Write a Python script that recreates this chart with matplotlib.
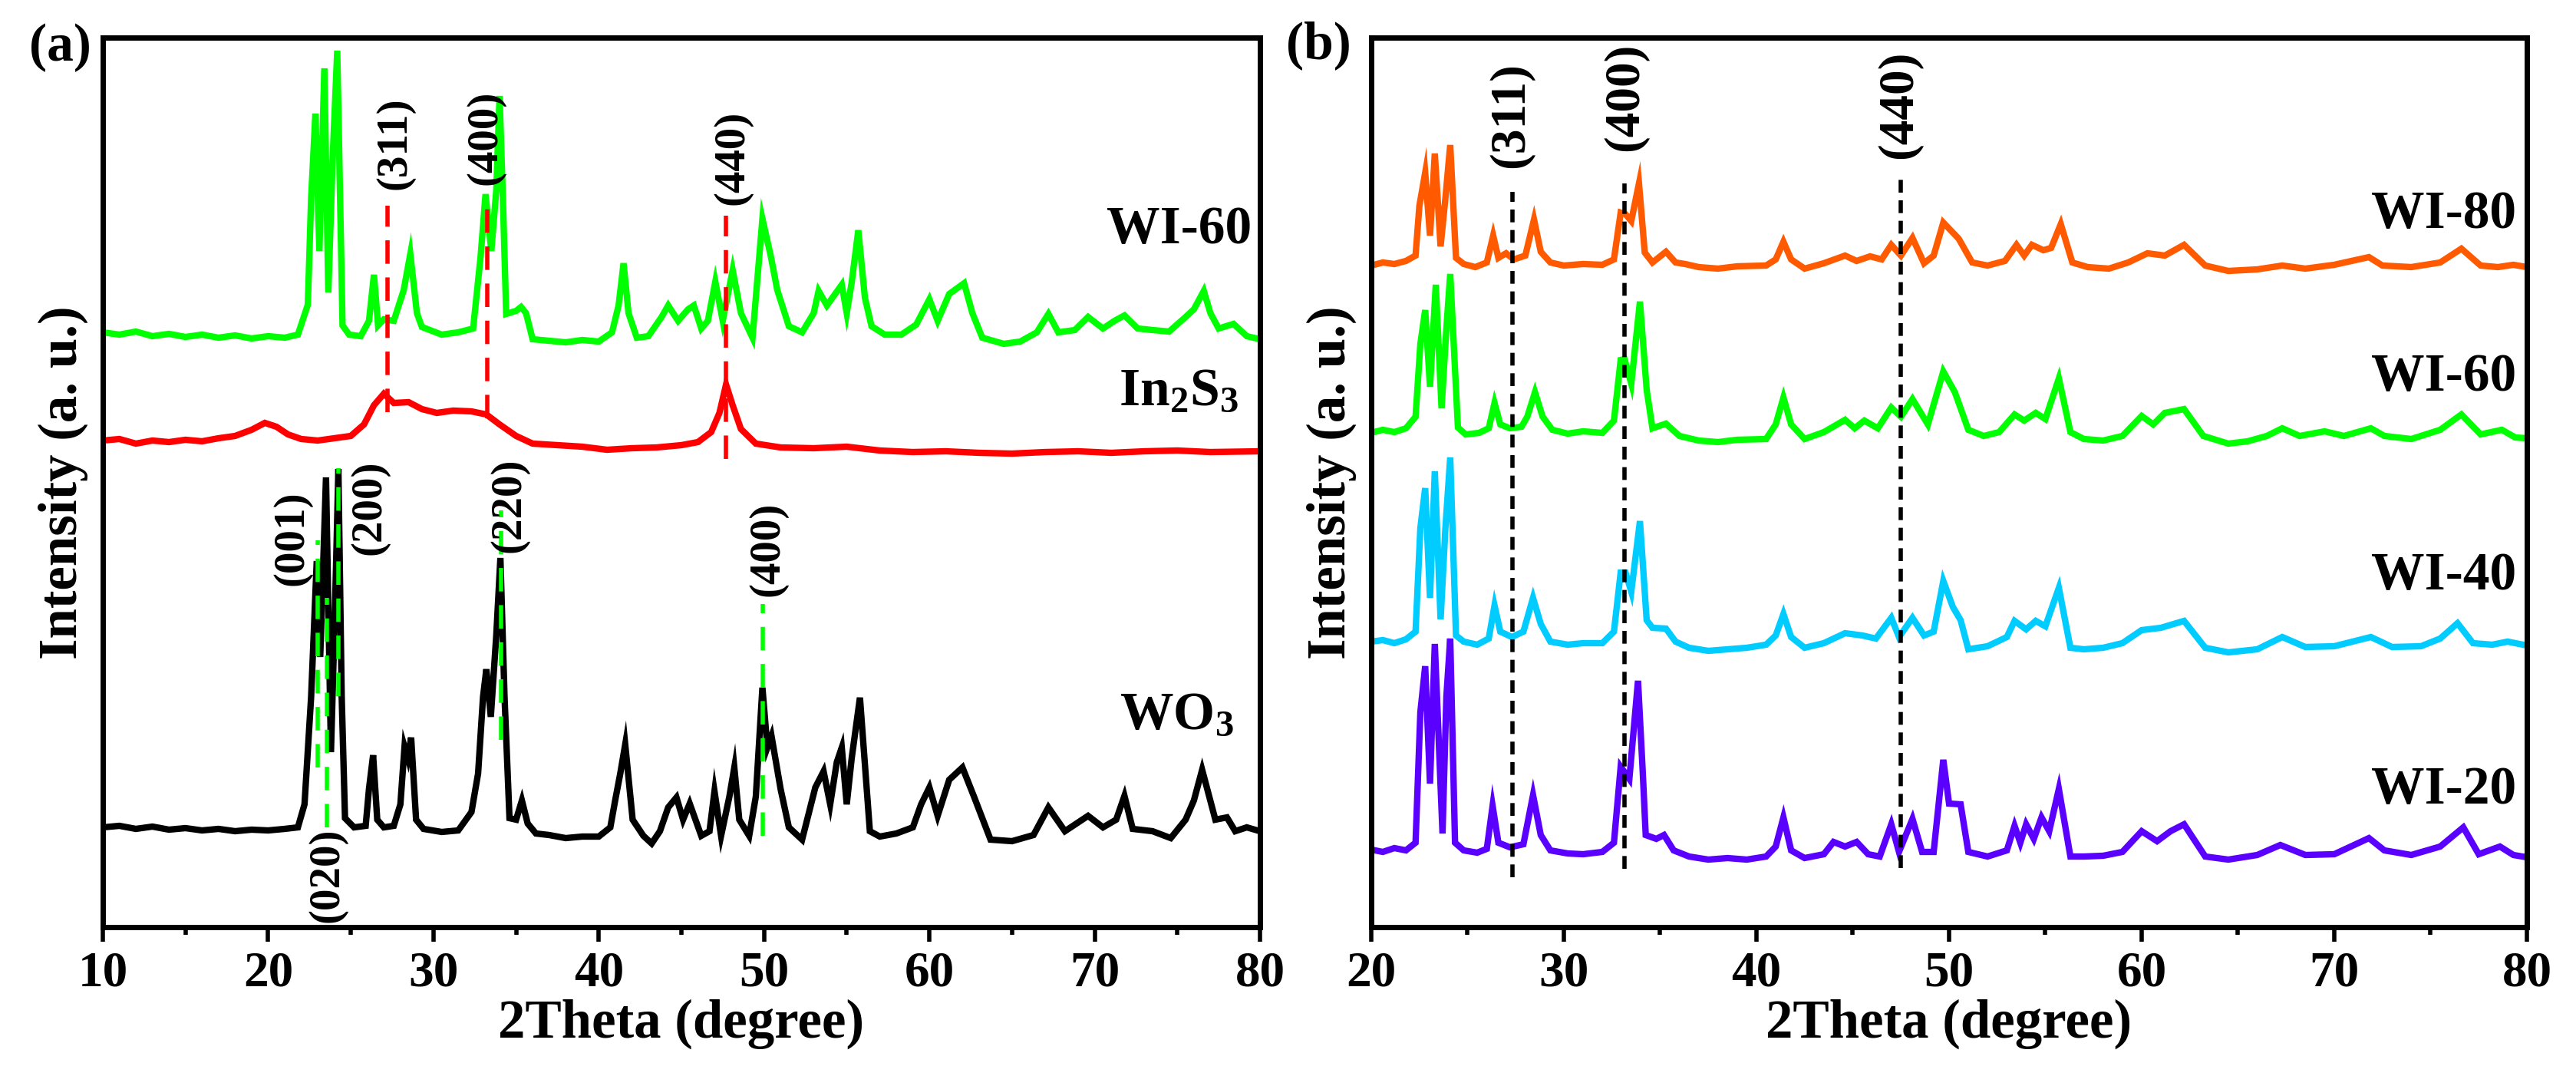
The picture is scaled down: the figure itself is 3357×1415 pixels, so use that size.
import numpy as np
import matplotlib
matplotlib.use("Agg")
import matplotlib.pyplot as plt
from matplotlib.ticker import MultipleLocator

# ---------------------------------------------------------
# data (2theta in degree, intensity in a.u.,
# already stacked with the vertical offsets used in the figure)
# ---------------------------------------------------------
wo3_pts = [
    (10, 130), (11, 132), (12, 128), (13, 131), (14, 127), (15, 129), (16, 126), (17, 128),
    (18, 125), (19, 127), (20, 126), (21, 128), (21.8, 130), (22.2, 160), (22.6, 300),
    (22.94, 477), (23.15, 352), (23.5, 586), (23.8, 228), (24.05, 420), (24.25, 597),
    (24.45, 300), (24.65, 142), (25.2, 130), (25.9, 132), (26.1, 180), (26.35, 224),
    (26.6, 140), (27.0, 130), (27.6, 132), (28.0, 160), (28.25, 235), (28.45, 220),
    (28.65, 247), (28.95, 140), (29.4, 128), (30.5, 124), (31.5, 126), (32.3, 150),
    (32.7, 200), (33.0, 300), (33.2, 336), (33.47, 274), (33.8, 380), (34.05, 481),
    (34.3, 300), (34.6, 142), (35.0, 140), (35.35, 165), (35.7, 135), (36.2, 122),
    (37, 120), (38, 116), (39, 118), (40, 118), (40.7, 130), (41.0, 166), (41.3, 200),
    (41.6, 238), (42.05, 140), (42.7, 119), (43.2, 109), (43.7, 125), (44.2, 156),
    (44.7, 169), (45.1, 140), (45.5, 161), (46.2, 119), (46.7, 125), (47.0, 177),
    (47.4, 119), (47.9, 170), (48.2, 208), (48.5, 140), (49.1, 119), (49.5, 170),
    (49.9, 312), (50.2, 234), (50.45, 249), (51.0, 180), (51.5, 130), (52.3, 114),
    (53.1, 182), (53.6, 203), (54.0, 160), (54.4, 215), (54.7, 234), (55.0, 160),
    (55.3, 220), (55.8, 299), (56.4, 125), (57.0, 118), (58.0, 122), (59.0, 130),
    (59.5, 160), (60.0, 182), (60.5, 145), (61.2, 192), (62.0, 208), (62.7, 170),
    (63.7, 114), (65.0, 112), (66.3, 120), (67.2, 156), (68.2, 125), (69.6, 145),
    (70.5, 130), (71.3, 140), (71.8, 171), (72.3, 128), (73.5, 125), (74.6, 116),
    (75.5, 140), (76.0, 165), (76.5, 205), (77.3, 140), (78.0, 143), (78.5, 125),
    (79.2, 130), (80, 125),
]

in2s3_pts = [
    (10, 634), (11, 636), (12, 630), (13, 634), (14, 632), (15, 635), (16, 633), (17, 637),
    (18, 640), (19, 648), (19.8, 657), (20.5, 652), (21.2, 642), (22, 636), (23, 634),
    (24, 637), (25, 640), (25.8, 655), (26.4, 680), (27.0, 695), (27.6, 683), (28.5, 684),
    (29.3, 675), (30.2, 670), (31.2, 673), (32.3, 672), (33.2, 668), (34.0, 655),
    (35.0, 640), (36.0, 630), (37.5, 628), (39, 626), (40.5, 622), (42, 624), (43.5, 625),
    (45.0, 628), (46.0, 632), (46.8, 645), (47.3, 670), (47.7, 707), (48.1, 680),
    (48.6, 649), (49.5, 630), (51, 625), (53, 624), (55, 626), (57, 621), (59, 619),
    (61, 620), (63, 618), (65, 617), (67, 619), (69, 620), (71, 618), (73, 620), (75, 621),
    (77, 619), (80, 620),
]

wi60a_pts = [
    (10, 775), (11, 772), (12, 776), (13, 770), (14, 773), (15, 769), (16, 772), (17, 768),
    (18, 771), (19, 767), (20, 770), (21, 768), (21.8, 772), (22.4, 811), (22.6, 950),
    (22.86, 1060), (23.1, 881), (23.4, 1119), (23.64, 827), (23.9, 1000), (24.18, 1142),
    (24.5, 784), (24.9, 772), (25.6, 770), (26.1, 790), (26.4, 850), (26.65, 784),
    (27.0, 792), (27.6, 790), (28.2, 830), (28.6, 877), (29.0, 800), (29.3, 782),
    (30.5, 772), (31.5, 775), (32.4, 780), (32.85, 873), (33.15, 955), (33.5, 881),
    (33.8, 960), (34.0, 1083), (34.2, 950), (34.4, 799), (35.0, 803), (35.3, 808),
    (35.6, 800), (36.0, 766), (37, 764), (38, 762), (39, 765), (40, 763), (40.8, 775),
    (41.2, 810), (41.5, 865), (41.8, 800), (42.3, 768), (43.0, 770), (43.8, 795),
    (44.2, 810), (44.8, 790), (45.4, 805), (45.75, 810), (46.2, 780), (46.6, 790),
    (47.05, 841), (47.5, 790), (48.1, 856), (48.6, 800), (49.3, 768), (49.9, 923),
    (50.4, 875), (50.8, 830), (51.5, 783), (52.3, 775), (53.0, 800), (53.3, 829),
    (53.8, 810), (54.3, 825), (54.7, 837), (55.0, 800), (55.3, 840), (55.7, 908),
    (56.1, 820), (56.5, 783), (57.3, 772), (58.3, 772), (59.2, 785), (60.0, 818),
    (60.5, 790), (61.2, 825), (62.1, 839), (62.6, 800), (63.2, 768), (64.5, 760),
    (65.5, 763), (66.5, 775), (67.2, 799), (67.8, 775), (68.8, 778), (69.6, 795),
    (70.5, 780), (71.2, 790), (71.8, 797), (72.6, 780), (73.5, 778), (74.5, 776),
    (75.5, 795), (76.0, 805), (76.6, 829), (77.0, 800), (77.5, 780), (78.4, 786),
    (79.2, 770), (80, 766),
]

wi80_pts = [
    (20, 862), (20.6, 866), (21.2, 864), (21.8, 868), (22.3, 875), (22.5, 940), (22.8, 983),
    (23.05, 901), (23.3, 1008), (23.6, 887), (23.85, 950), (24.1, 1019), (24.4, 872),
    (24.8, 864), (25.4, 860), (26.0, 866), (26.33, 901), (26.6, 872), (27.0, 878),
    (27.4, 870), (28.0, 875), (28.45, 922), (28.8, 880), (29.3, 866), (30.0, 862),
    (31.0, 864), (32.0, 863), (32.6, 870), (32.95, 931), (33.2, 929), (33.5, 920),
    (33.9, 969), (34.2, 879), (34.6, 866), (35.3, 880), (35.8, 866), (36.3, 864),
    (37, 860), (38, 858), (39, 861), (40.5, 862), (41.0, 870), (41.4, 893), (41.8, 870),
    (42.5, 858), (43.5, 865), (44.6, 875), (45.2, 868), (45.9, 874), (46.5, 870),
    (47.0, 889), (47.5, 875), (48.1, 898), (48.7, 865), (49.2, 875), (49.7, 918),
    (50.5, 897), (51.2, 866), (52.0, 862), (52.9, 868), (53.5, 889), (53.9, 875),
    (54.3, 889), (54.9, 882), (55.3, 885), (55.8, 916), (56.4, 866), (57.2, 860),
    (58.3, 858), (59.3, 866), (60.3, 878), (61.2, 875), (62.2, 889), (63.3, 862),
    (64.5, 855), (66, 857), (67.3, 862), (68.5, 858), (70, 863), (71.8, 873), (72.5, 862),
    (74, 860), (75.5, 866), (76.6, 884), (77.6, 862), (78.5, 860), (79.3, 863), (80, 860),
]

wi60b_pts = [
    (20, 644), (20.6, 648), (21.2, 645), (21.8, 650), (22.3, 665), (22.55, 760), (22.8, 804),
    (23.05, 704), (23.35, 837), (23.65, 676), (23.9, 780), (24.1, 851), (24.5, 651),
    (24.9, 642), (25.6, 644), (26.1, 650), (26.4, 683), (26.7, 655), (27.2, 650),
    (27.8, 652), (28.1, 665), (28.5, 697), (28.9, 665), (29.4, 648), (30.2, 643),
    (31, 646), (32, 644), (32.6, 660), (32.95, 739), (33.15, 740), (33.5, 708),
    (33.95, 815), (34.3, 700), (34.6, 650), (35.3, 656), (36, 640), (37, 634), (38, 632),
    (39, 635), (40.5, 636), (41.0, 655), (41.4, 690), (41.8, 655), (42.5, 636), (43.5, 645),
    (44.6, 661), (45.1, 650), (45.6, 660), (46.3, 650), (47.0, 677), (47.5, 665),
    (48.1, 688), (48.9, 655), (49.7, 724), (50.3, 697), (51.0, 648), (51.8, 640),
    (52.6, 645), (53.4, 668), (53.9, 660), (54.5, 670), (55.0, 662), (55.7, 715),
    (56.3, 645), (57, 636), (58, 634), (59, 640), (60.0, 666), (60.6, 655), (61.2, 670),
    (62.2, 675), (63.2, 640), (64.5, 630), (65.5, 633), (66.5, 640), (67.3, 650),
    (68.2, 640), (69.5, 646), (70.5, 640), (71.9, 650), (72.6, 640), (74, 636),
    (75.5, 648), (76.6, 668), (77.6, 642), (78.7, 648), (79.4, 638), (80, 637),
]

wi40_pts = [
    (20, 372), (20.6, 374), (21.2, 370), (21.8, 375), (22.3, 385), (22.55, 520), (22.8, 572),
    (23.05, 429), (23.3, 594), (23.6, 401), (23.85, 520), (24.1, 612), (24.4, 380),
    (24.8, 372), (25.5, 368), (26.1, 376), (26.4, 419), (26.7, 385), (27.3, 378),
    (27.9, 385), (28.4, 429), (28.8, 395), (29.3, 372), (30.2, 368), (31, 370), (32, 370),
    (32.6, 385), (32.95, 462), (33.2, 462), (33.5, 437), (33.95, 529), (34.3, 400),
    (34.6, 390), (35.3, 389), (35.8, 372), (36.5, 364), (37.5, 360), (38.5, 362),
    (39.5, 364), (40.5, 368), (41.0, 380), (41.4, 408), (41.8, 378), (42.5, 364),
    (43.5, 370), (44.6, 383), (45.5, 380), (46.2, 376), (47.0, 403), (47.4, 378),
    (48.1, 403), (48.7, 380), (49.2, 385), (49.7, 451), (50.2, 417), (50.6, 400),
    (51.0, 362), (52, 366), (53, 378), (53.4, 399), (54.0, 388), (54.5, 399), (55.0, 392),
    (55.7, 442), (56.3, 364), (57, 362), (58, 364), (59, 370), (60.0, 387), (61, 390),
    (62.2, 399), (63.3, 364), (64.5, 358), (66, 362), (67.3, 378), (68.5, 365), (70, 366),
    (71.9, 378), (73, 365), (74.5, 366), (75.5, 376), (76.4, 396), (77.2, 370),
    (78.2, 368), (79.0, 372), (80, 367),
]

wi20_pts = [
    (20, 101), (20.6, 98), (21.2, 103), (21.8, 100), (22.3, 110), (22.55, 280), (22.8, 340),
    (23.05, 187), (23.3, 369), (23.7, 122), (23.9, 300), (24.1, 376), (24.35, 110),
    (24.8, 100), (25.5, 97), (26.0, 102), (26.3, 158), (26.6, 110), (27.2, 104),
    (27.9, 108), (28.4, 172), (28.8, 120), (29.3, 100), (30.2, 96), (31, 95), (32, 98),
    (32.6, 110), (32.95, 209), (33.4, 193), (33.85, 321), (34.1, 200), (34.25, 120),
    (34.8, 115), (35.2, 120), (35.7, 100), (36.5, 92), (37.5, 88), (38.5, 90), (39.5, 88),
    (40.5, 92), (41.0, 105), (41.4, 143), (41.8, 100), (42.5, 90), (43.5, 95), (44.0, 111),
    (44.6, 105), (45.2, 111), (45.8, 95), (46.4, 92), (47.0, 134), (47.4, 98), (48.1, 141),
    (48.6, 98), (49.2, 98), (49.7, 218), (50.0, 161), (50.6, 160), (51.0, 98), (52, 92),
    (53.0, 100), (53.4, 132), (53.7, 110), (54.0, 134), (54.4, 115), (54.8, 143),
    (55.2, 125), (55.7, 180), (56.3, 92), (57, 92), (58, 93), (59, 98), (60.0, 125),
    (60.8, 112), (61.5, 125), (62.2, 134), (63.3, 92), (64.5, 88), (66, 94), (67.2, 107),
    (68.5, 94), (70, 95), (71.8, 116), (72.6, 100), (74, 94), (75.5, 105), (76.7, 130),
    (77.5, 95), (78.6, 105), (79.3, 94), (80, 91),
]

# reflections marked in the figure
in2s3_hkl = ["(311)", "(400)", "(440)"]
in2s3_pos_a = [27.2, 33.25, 47.7]
in2s3_pos_b = [27.33, 33.15, 47.5]
wo3_hkl = ["(001)", "(020)", "(200)", "(220)", "(400)"]
wo3_pos = [23.0, 23.55, 24.26, 34.1, 49.93]

# ---------------------------------------------------------
# style
# ---------------------------------------------------------
plt.rcParams['font.family'] = ['Liberation Serif', 'DejaVu Serif']
plt.rcParams['font.weight'] = 'bold'
plt.rcParams['mathtext.fontset'] = 'custom'
plt.rcParams['mathtext.rm'] = 'Liberation Serif:bold'
plt.rcParams['mathtext.bf'] = 'Liberation Serif:bold'
plt.rcParams['mathtext.it'] = 'Liberation Serif:bold'

c_wo3 = 'black'
c_in2s3 = '#ff0000'
c_wi60 = '#00ff00'
c_wi80 = '#ff5a00'
c_wi40 = '#00ccff'
c_wi20 = '#5a00ff'
LW = 6

fig = plt.figure(figsize=(33.57, 14.15), dpi=100)
ax_a = fig.add_axes([0.03992, 0.14629, 0.44921, 0.81908])
ax_b = fig.add_axes([0.53232, 0.14629, 0.44861, 0.81908])


def style_axis(ax, xmin):
    ax.set_xlim(xmin, 80)
    ax.set_ylim(0, 1159)
    ax.xaxis.set_major_locator(MultipleLocator(10))
    ax.xaxis.set_minor_locator(MultipleLocator(5))
    ax.set_yticks([])
    for s in ax.spines.values():
        s.set_linewidth(5)
    ax.tick_params(axis='x', which='major', direction='out', length=14, width=4,
                   labelsize=47, pad=8)
    ax.tick_params(axis='x', which='minor', direction='out', length=7, width=4)
    ax.set_xlabel('2Theta (degree)', fontsize=51, fontweight='bold', labelpad=2)
    ax.set_ylabel('Intensity (a. u.)', fontsize=51, fontweight='bold', labelpad=14)


def draw(ax, pts, color):
    arr = np.array(pts)
    ax.plot(arr[:, 0], arr[:, 1], color=color, lw=LW, solid_joinstyle='miter')


# ----------------------------
# (a)
# ----------------------------
style_axis(ax_a, 10)
draw(ax_a, wo3_pts, c_wo3)
draw(ax_a, in2s3_pts, c_in2s3)
draw(ax_a, wi60a_pts, c_wi60)

# In2S3 reference lines (red)
red_span = [(671, 940), (663, 940), (610, 927)]
for x, (y0, y1) in zip(in2s3_pos_a, red_span):
    ax_a.plot([x, x], [y0, y1], color=c_in2s3, lw=4, ls=(0, (5.5, 3.2)))
hkl_a_xy = [(27.64, 1021), (33.12, 1029), (48.1, 1003)]
for lab, (x, y) in zip(in2s3_hkl, hkl_a_xy):
    ax_a.text(x, y, lab, rotation=90, fontsize=41, ha='center', va='center')

# WO3 reference lines (green)
green_span = [(208, 504), (130, 429), (301, 598), (244, 543), (119, 421)]
for x, (y0, y1) in zip(wo3_pos, green_span):
    ax_a.plot([x, x], [y0, y1], color=c_wi60, lw=4, ls=(0, (5.5, 3.2)))
wo3_lab_xy = [(21.42, 507), (23.56, 68), (26.11, 547), (34.6, 550), (50.2, 493)]
for lab, (x, y) in zip(wo3_hkl, wo3_lab_xy):
    ax_a.text(x, y, lab, rotation=90, fontsize=41, ha='center', va='center')

ax_a.text(79.5, 891, 'WI-60', fontsize=50, ha='right', va='baseline')
ax_a.text(78.7, 681, r'In$_\mathregular{2}$S$_\mathregular{3}$', fontsize=50,
          ha='right', va='baseline')
ax_a.text(78.4, 259, r'WO$_\mathregular{3}$', fontsize=50, ha='right', va='baseline')

# ----------------------------
# (b)
# ----------------------------
style_axis(ax_b, 20)
draw(ax_b, wi80_pts, c_wi80)
draw(ax_b, wi60b_pts, c_wi60)
draw(ax_b, wi40_pts, c_wi40)
draw(ax_b, wi20_pts, c_wi20)

black_span = [(65, 958), (76, 969), (77, 976)]
for x, (y0, y1) in zip(in2s3_pos_b, black_span):
    ax_b.plot([x, x], [y0, y1], color='black', lw=4, ls=(0, (3, 1.8)))
hkl_b_xy = [(27.25, 1058), (33.19, 1082), (47.41, 1072)]
for lab, (x, y) in zip(in2s3_hkl, hkl_b_xy):
    ax_b.text(x, y, lab, rotation=90, fontsize=47, ha='center', va='center')

for lab, y in zip(['WI-80', 'WI-60', 'WI-40', 'WI-20'], [911, 699, 440, 161]):
    ax_b.text(79.44, y, lab, fontsize=50, ha='right', va='baseline')

fig.text(0.0235, 0.956, '(a)', fontsize=50, ha='center', va='center')
fig.text(0.5118, 0.958, '(b)', fontsize=50, ha='center', va='center')

fig.savefig('out.png', dpi=100)
